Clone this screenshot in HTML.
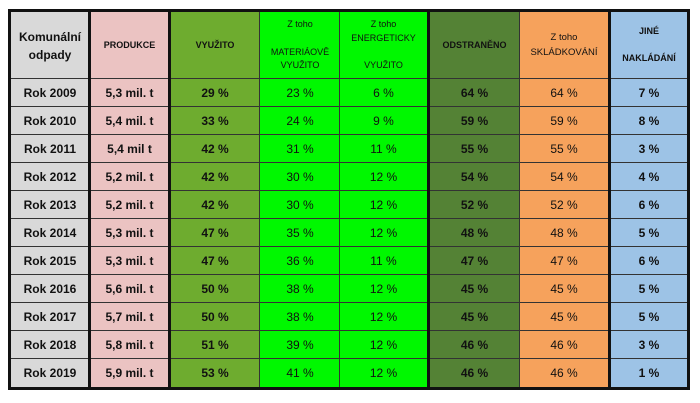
<!DOCTYPE html>
<html><head><meta charset="utf-8"><style>
body{margin:0;width:700px;height:403px;background:#fff;position:relative;overflow:hidden;font-family:"Liberation Sans",sans-serif;}
.c{position:absolute;display:flex;align-items:center;justify-content:center;text-align:center;color:#111;font-size:12px;}
.b{font-weight:bold;}
.l{position:absolute;background:#111;}
.h{font-size:9px;line-height:1.55;}
</style></head><body>
<div id="t"></div>
<script>
const X=[[11,89,'#d9d9d9',1],[91,168,'#ebc3c2',1],[171,259,'#6eac2f',1],[260,340,'#00f800',0],[340,427,'#00f800',0],[430,519,'#548235',1],[520,608,'#f6a25c',0],[611,687,'#9dc3e6',1]];
const H=['<span style="font-size:12px;font-weight:bold;line-height:1.5">Komunální<br>odpady</span>','<b>PRODUKCE</b>','<b>VYUŽITO</b>','<span>Z toho<br><br>MATERIÁOVĚ<br>VYUŽITO</span>','<span>Z toho<br>ENERGETICKY<br><br>VYUŽITO</span>','<b>ODSTRANĚNO</b>','<span style="font-size:9.5px">Z toho<br>SKLÁDKOVÁNÍ</span>','<b>JINÉ<br><br>NAKLÁDÁNÍ</b>'];
const D=[["Rok 2009","5,3 mil. t","29 %","23 %","6 %","64 %","64 %","7 %"],
["Rok 2010","5,4 mil. t","33 %","24 %","9 %","59 %","59 %","8 %"],
["Rok 2011","5,4 mil t","42 %","31 %","11 %","55 %","55 %","3 %"],
["Rok 2012","5,2 mil. t","42 %","30 %","12 %","54 %","54 %","4 %"],
["Rok 2013","5,2 mil. t","42 %","30 %","12 %","52 %","52 %","6 %"],
["Rok 2014","5,3 mil. t","47 %","35 %","12 %","48 %","48 %","5 %"],
["Rok 2015","5,3 mil. t","47 %","36 %","11 %","47 %","47 %","6 %"],
["Rok 2016","5,6 mil. t","50 %","38 %","12 %","45 %","45 %","5 %"],
["Rok 2017","5,7 mil. t","50 %","38 %","12 %","45 %","45 %","5 %"],
["Rok 2018","5,8 mil. t","51 %","39 %","12 %","46 %","46 %","3 %"],
["Rok 2019","5,9 mil. t","53 %","41 %","12 %","46 %","46 %","1 %"]];
let s='';
X.forEach((c,i)=>{
 s+=`<div class="c h" style="left:${c[0]}px;top:12px;width:${c[1]-c[0]}px;height:67px;background:${c[2]}">${H[i]}</div>`;
 D.forEach((r,j)=>{let y=79+j*28;
  s+=`<div class="c ${c[3]?'b':''}" style="left:${c[0]}px;top:${y}px;width:${c[1]-c[0]}px;height:28px;background:${c[2]}">${r[i]}</div>`;});
});
for(let j=0;j<11;j++){s+=`<div class="l" style="left:11px;top:${79+j*28-1}px;width:676px;height:1px;background:#333"></div>`;}
[[8,3],[88,3],[168,3],[427,3],[608,3],[687,3]].forEach(v=>s+=`<div class="l" style="left:${v[0]}px;top:9px;width:${v[1]}px;height:381px"></div>`);
[259,339,519].forEach(x=>s+=`<div class="l" style="left:${x}px;top:12px;width:1px;height:375px;background:#333"></div>`);
s+=`<div class="l" style="left:8px;top:9px;width:682px;height:3px"></div><div class="l" style="left:8px;top:387px;width:682px;height:3px"></div>`;
document.getElementById('t').innerHTML=s;
</script>
</body></html>
